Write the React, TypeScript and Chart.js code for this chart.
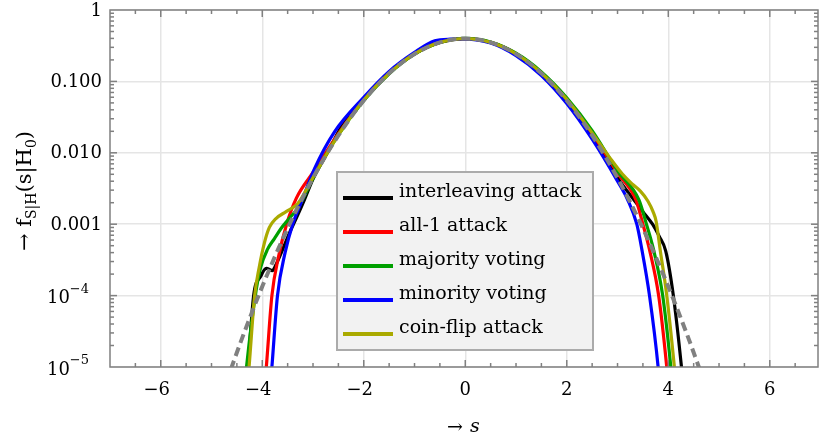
import React, { useEffect, useRef } from 'react';
import { Chart, registerables } from 'chart.js';

Chart.register(...registerables);

// ---------- data ----------
const xTickValues = [-6, -4, -2, 0, 2, 4, 6];
const xTickLabels = ['−6', '−4', '−2', '0', '2', '4', '6'];
const yTickValues = [1e-5, 1e-4, 1e-3, 1e-2, 1e-1, 1];
const yTickBase = ['10', '10', '0.001', '0.010', '0.100', '1'];
const yTickExp = ['−5', '−4', '', '', '', ''];

const seriesNames = ['interleaving attack', 'all-1 attack', 'majority voting', 'minority voting', 'coin-flip attack'];
const seriesColors = ['#000000', '#ff0000', '#00a000', '#0000ff', '#aaaa00'];

// Gaussian reference (dashed)
const gaussS = [-4.8, -4.6, -4.4, -4.2, -4.0, -3.75, -3.5, -3.25, -3.0, -2.75, -2.5, -2.25, -2.0, -1.75, -1.5, -1.25, -1.0, -0.75, -0.5, -0.25, 0,
  0.25, 0.5, 0.75, 1.0, 1.25, 1.5, 1.75, 2.0, 2.25, 2.5, 2.75, 3.0, 3.25, 3.5, 3.75, 4.0, 4.2, 4.4, 4.6, 4.8];
const gaussF = [3.96e-6, 1.01e-5, 2.5e-5, 5.89e-5, 1.34e-4, 3.53e-4, 8.73e-4, 2.03e-3, 4.43e-3, 9.09e-3, 1.75e-2, 3.17e-2, 5.4e-2, 8.63e-2, 0.1295, 0.1826, 0.242, 0.3011, 0.3521, 0.3867, 0.3989,
  0.3867, 0.3521, 0.3011, 0.242, 0.1826, 0.1295, 8.63e-2, 5.4e-2, 3.17e-2, 1.75e-2, 9.09e-3, 4.43e-3, 2.03e-3, 8.73e-4, 3.53e-4, 1.34e-4, 5.89e-5, 2.5e-5, 1.01e-5, 3.96e-6];

// interleaving attack (black)
const interleavingS = [-4.33, -4.28, -4.17, -4.03, -3.92, -3.8, -3.73, -3.63, -3.47, -3.32, -3.17, -3.0, -2.7, -2.4, -2.0, -1.5, -1.0, -0.5, 0,
  0.5, 1.0, 1.5, 2.0, 2.5, 3.0, 3.3, 3.5, 3.69, 3.82, 3.95, 4.1, 4.26, 4.32];
const interleavingF = [4e-6, 1e-5, 1e-4, 1.86e-4, 2.4e-4, 2.24e-4, 2.7e-4, 3.9e-4, 7.4e-4, 1.26e-3, 2.2e-3, 4.3e-3, 0.0105, 0.026, 0.055, 0.13, 0.242, 0.35, 0.397,
  0.352, 0.243, 0.13, 0.055, 0.0178, 0.0045, 0.0023, 0.0015, 0.001, 6.8e-4, 4.2e-4, 1e-4, 1e-5, 3.5e-6];

// all-1 attack (red)
const allOneS = [-3.97, -3.92, -3.81, -3.68, -3.52, -3.33, -3.0, -2.5, -2.0, -1.5, -1.0, -0.5, 0,
  0.5, 1.0, 1.5, 2.0, 2.5, 3.0, 3.36, 3.5, 3.63, 3.81, 3.97, 4.02];
const allOneF = [4e-6, 1e-5, 1e-4, 3.5e-4, 1e-3, 2.3e-3, 5.3e-3, 0.0185, 0.056, 0.132, 0.243, 0.355, 0.398,
  0.352, 0.245, 0.132, 0.056, 0.0185, 0.0052, 0.0022, 1e-3, 4.4e-4, 1e-4, 1e-5, 4e-6];

// majority voting (green)
const majorityS = [-4.36, -4.31, -4.12, -4.03, -3.9, -3.76, -3.63, -3.47, -3.27, -3.0, -2.5, -2.0, -1.5, -1.0, -0.5, 0,
  0.5, 1.0, 1.5, 2.0, 2.5, 3.0, 3.42, 3.57, 3.71, 3.89, 4.05, 4.1];
const majorityF = [4e-6, 1e-5, 1.2e-4, 2.5e-4, 4.4e-4, 6.3e-4, 8.7e-4, 1.2e-3, 1.8e-3, 4.4e-3, 0.0178, 0.054, 0.128, 0.24, 0.35, 0.4,
  0.355, 0.248, 0.136, 0.059, 0.0205, 0.0056, 0.0022, 1e-3, 4.4e-4, 1e-4, 1e-5, 4e-6];

// minority voting (blue)
const minorityS = [-3.87, -3.81, -3.7, -3.55, -3.4, -3.2, -2.97, -2.57, -2.0, -1.5, -1.0, -0.6, -0.3, 0,
  0.5, 1.0, 1.5, 2.0, 2.5, 3.0, 3.2, 3.38, 3.48, 3.63, 3.8, 3.86];
const minorityF = [3e-6, 1e-5, 1e-4, 4e-4, 1e-3, 2.3e-3, 6e-3, 0.02, 0.06, 0.138, 0.255, 0.37, 0.39, 0.392,
  0.345, 0.23, 0.121, 0.049, 0.0155, 0.004, 0.0022, 1e-3, 4.4e-4, 1e-4, 1e-5, 3e-6];

// coin-flip attack (olive)
const coinFlipS = [-4.31, -4.26, -4.15, -4.06, -3.96, -3.86, -3.73, -3.53, -3.3, -3.0, -2.5, -2.0, -1.5, -1.0, -0.5, 0,
  0.5, 1.0, 1.5, 2.0, 2.5, 2.85, 3.1, 3.3, 3.45, 3.6, 3.7, 3.76, 3.84, 3.97, 4.12, 4.17];
const coinFlipF = [4e-6, 1e-5, 1e-4, 2.5e-4, 5.4e-4, 9e-4, 1.2e-3, 1.5e-3, 1.95e-3, 4.5e-3, 0.0178, 0.055, 0.13, 0.243, 0.352, 0.398,
  0.352, 0.243, 0.131, 0.056, 0.019, 0.0085, 0.005, 0.0036, 0.0029, 0.0021, 0.0015, 0.0011, 4.4e-4, 1e-4, 1e-5, 4e-6];

const FONT = '"DejaVu Serif", serif';
const FRAME = '#808080';

const axesPlugin = {
  id: 'axesFrame',
  afterDatasetsDraw(chart: any) {
    const { ctx, chartArea: a, scales } = chart;
    const xs = scales.x;
    const ys = scales.y;
    ctx.save();
    const line = (x1: number, y1: number, x2: number, y2: number) => {
      ctx.beginPath();
      ctx.moveTo(x1, y1);
      ctx.lineTo(x2, y2);
      ctx.stroke();
    };
    ctx.strokeStyle = FRAME;
    ctx.lineWidth = 1.5;
    ctx.strokeRect(a.left, a.top, a.right - a.left, a.bottom - a.top);
    // x ticks (inward, top and bottom)
    for (let k = -14; k <= 14; k++) {
      const v = k / 2;
      const px = xs.getPixelForValue(v);
      if (px <= a.left + 1 || px >= a.right - 1) continue;
      const len = k % 4 === 0 ? 7 : 4;
      line(px, a.bottom, px, a.bottom - len);
      line(px, a.top, px, a.top + len);
    }
    // y ticks (inward, left and right)
    for (let e = -5; e <= 0; e++) {
      for (let m = 1; m <= 9; m++) {
        const v = m * Math.pow(10, e);
        if (v > 1.0001) break;
        const py = ys.getPixelForValue(v);
        if (py <= a.top + 1 || py >= a.bottom - 1) continue;
        const len = m === 1 ? 7 : 4;
        line(a.left, py, a.left + len, py);
        line(a.right, py, a.right - len, py);
      }
    }
    // x tick labels
    ctx.fillStyle = '#000';
    ctx.font = `18px ${FONT}`;
    ctx.textAlign = 'center';
    ctx.textBaseline = 'middle';
    xTickValues.forEach((v, i) => {
      const px = xs.getPixelForValue(v);
      const lbl = xTickLabels[i];
      const off = lbl.startsWith('−') ? -4 : 0;
      ctx.fillText(lbl, px + off, a.bottom + 23);
    });
    // y tick labels
    ctx.textAlign = 'left';
    ctx.textBaseline = 'middle';
    yTickValues.forEach((v, i) => {
      const py = ys.getPixelForValue(v);
      const base = yTickBase[i];
      const exp = yTickExp[i];
      ctx.font = `18px ${FONT}`;
      const bw = ctx.measureText(base).width;
      if (exp) {
        ctx.font = `13px ${FONT}`;
        const ew = ctx.measureText(exp).width;
        const right = a.left - 21;
        ctx.font = `18px ${FONT}`;
        ctx.fillText(base, right - ew - bw, py + 3);
        ctx.font = `13px ${FONT}`;
        ctx.fillText(exp, right - ew, py - 6);
      } else {
        ctx.fillText(base, a.left - 8 - bw, py + 1);
      }
    });
    // x title
    ctx.font = `19px ${FONT}`;
    ctx.textAlign = 'center';
    ctx.fillText('→ ', (a.left + a.right) / 2 - 6, 428);
    ctx.font = `italic 19px ${FONT}`;
    ctx.textAlign = 'left';
    ctx.fillText('s', (a.left + a.right) / 2 + 6, 427);
    // y title (rotated, with subscripts)
    const pieces = [
      { t: '→ f', s: 21, dy: 0 },
      { t: 'S|H', s: 14, dy: 5 },
      { t: '(s|H', s: 21, dy: 0 },
      { t: '0', s: 14, dy: 5 },
      { t: ')', s: 21, dy: 0 },
    ];
    let total = 0;
    pieces.forEach((p) => {
      ctx.font = `${p.s}px ${FONT}`;
      total += ctx.measureText(p.t).width;
    });
    ctx.translate(25, 191);
    ctx.rotate(-Math.PI / 2);
    ctx.textAlign = 'left';
    ctx.textBaseline = 'alphabetic';
    let cx = -total / 2;
    pieces.forEach((p) => {
      ctx.font = `${p.s}px ${FONT}`;
      ctx.fillText(p.t, cx, 6 + p.dy);
      cx += ctx.measureText(p.t).width;
    });
    ctx.restore();
  },
};

const legendPlugin = {
  id: 'boxLegend',
  afterDraw(chart: any) {
    const ctx = chart.ctx;
    const x0 = 337, y0 = 172, w = 256, h = 178;
    ctx.save();
    ctx.fillStyle = '#f2f2f2';
    ctx.fillRect(x0, y0, w, h);
    ctx.strokeStyle = '#ababab';
    ctx.lineWidth = 2;
    ctx.strokeRect(x0, y0, w, h);
    ctx.font = `19px ${FONT}`;
    ctx.textAlign = 'left';
    ctx.textBaseline = 'alphabetic';
    seriesNames.forEach((name, i) => {
      const y = y0 + 26 + i * 34;
      ctx.strokeStyle = seriesColors[i];
      ctx.lineWidth = 4;
      ctx.beginPath();
      ctx.moveTo(x0 + 6, y);
      ctx.lineTo(x0 + 56, y);
      ctx.stroke();
      ctx.fillStyle = '#000';
      ctx.fillText(name, x0 + 62, y - 1);
    });
    ctx.restore();
  },
};

export default function App() {
  const ref = useRef<HTMLCanvasElement>(null);
  useEffect(() => {
    const canvas = ref.current;
    if (!canvas) return;
    const mk = (s: number[], f: number[]) => s.map((x, i) => ({ x, y: f[i] }));
    const seriesData = [
      mk(interleavingS, interleavingF),
      mk(allOneS, allOneF),
      mk(majorityS, majorityF),
      mk(minorityS, minorityF),
      mk(coinFlipS, coinFlipF),
    ];
    const drawOrder = [5, 4, 3, 2, 1];
    const datasets: any[] = seriesData.map((d, i) => ({
      label: seriesNames[i],
      data: d,
      borderColor: seriesColors[i],
      backgroundColor: seriesColors[i],
      borderWidth: 3.2,
      pointRadius: 0,
      fill: false,
      cubicInterpolationMode: 'monotone',
      order: drawOrder[i],
    }));
    datasets.push({
      label: 'gauss',
      data: mk(gaussS, gaussF),
      borderColor: '#808080',
      borderWidth: 4,
      borderDash: [9, 5],
      pointRadius: 0,
      fill: false,
      cubicInterpolationMode: 'monotone',
      order: 0,
    });
    const grid = { color: '#e5e5e5', lineWidth: 1.5, drawTicks: false };
    const chart = new Chart(canvas, {
      type: 'line',
      data: { datasets },
      options: {
        animation: false,
        responsive: true,
        maintainAspectRatio: false,
        layout: { padding: { top: 10, right: 1, left: 0, bottom: 0 } },
        plugins: { legend: { display: false }, tooltip: { enabled: false } },
        scales: {
          x: {
            type: 'linear',
            min: -7,
            max: 6.95,
            afterBuildTicks: (s: any) => {
              s.ticks = xTickValues.map((v) => ({ value: v }));
            },
            ticks: { display: false },
            grid,
            border: { display: false },
            afterFit: (s: any) => {
              s.height = 72;
            },
          },
          y: {
            type: 'logarithmic',
            min: 1e-5,
            max: 1,
            afterBuildTicks: (s: any) => {
              s.ticks = yTickValues.map((v) => ({ value: v }));
            },
            ticks: { display: false },
            grid,
            border: { display: false },
            afterFit: (s: any) => {
              s.width = 110;
            },
          },
        },
      } as any,
      plugins: [axesPlugin, legendPlugin],
    });
    return () => chart.destroy();
  }, []);
  return (
    <div style={{ position: 'absolute', left: 0, top: 0, width: 819, height: 439 }}>
      <canvas ref={ref} />
    </div>
  );
}
